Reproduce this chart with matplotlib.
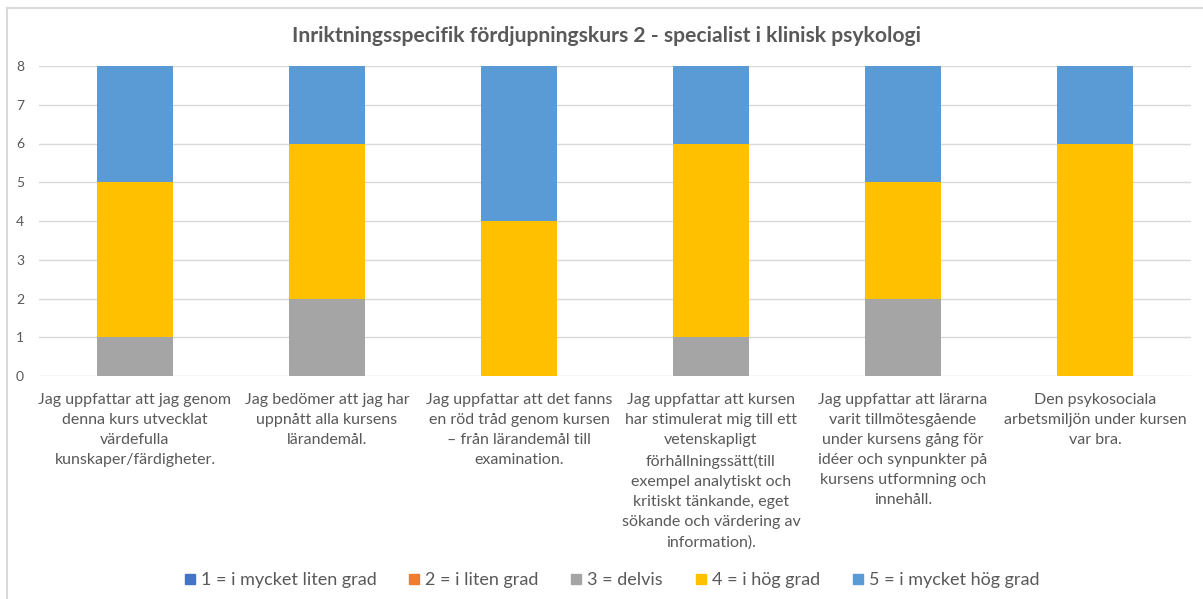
import matplotlib.pyplot as plt
from matplotlib.lines import Line2D
import numpy as np

plt.rcParams['font.family'] = ['Lato', 'DejaVu Sans']

# Kategorier (påståenden)
kategorier = [
    "Jag uppfattar att jag genom\ndenna kurs utvecklat\nvärdefulla\nkunskaper/färdigheter.",
    "Jag bedömer att jag har\nuppnått alla kursens\nlärandemål.",
    "Jag uppfattar att det fanns\nen röd tråd genom kursen\n– från lärandemål till\nexamination.",
    "Jag uppfattar att kursen\nhar stimulerat mig till ett\nvetenskapligt\nförhållningssätt(till\nexempel analytiskt och\nkritiskt tänkande, eget\nsökande och värdering av\ninformation).",
    "Jag uppfattar att lärarna\nvarit tillmötesgående\nunder kursens gång för\nidéer och synpunkter på\nkursens utformning och\ninnehåll.",
    "Den psykosociala\narbetsmiljön under kursen\nvar bra.",
]

serier = ["1 = i mycket liten grad", "2 = i liten grad", "3 = delvis",
          "4 = i hög grad", "5 = i mycket hög grad"]
grad1 = [0, 0, 0, 0, 0, 0]
grad2 = [0, 0, 0, 0, 0, 0]
grad3 = [1, 2, 0, 1, 2, 0]
grad4 = [4, 4, 4, 5, 3, 6]
grad5 = [3, 2, 4, 2, 3, 2]
farger = ["#4472C4", "#ED7D31", "#A5A5A5", "#FFC000", "#5B9BD5"]

fig = plt.figure(figsize=(12.03, 5.99), dpi=100)
ax = fig.add_axes([39 / 1203, 1 - 376 / 599, (1191 - 39) / 1203, (376 - 66) / 599])

x = np.arange(len(kategorier))
botten = np.zeros(len(kategorier))
for namn, varden, farg in zip(serier, [grad1, grad2, grad3, grad4, grad5], farger):
    ax.bar(x, varden, width=0.4, bottom=botten, color=farg, label=namn, zorder=3)
    botten += np.array(varden)

ax.set_xlim(-0.5, len(kategorier) - 0.5)
ax.set_ylim(0, 8)
ax.set_yticks(range(0, 9))
ax.grid(axis='y', color='#D9D9D9', linewidth=1, zorder=0)
for s in ax.spines.values():
    s.set_visible(False)
ax.tick_params(axis='both', length=0, colors='#595959')
ax.tick_params(axis='y', labelsize=10, pad=10.8)
ax.set_xticks(x)
ax.set_xticklabels(kategorier, fontsize=11.5, color='#595959', linespacing=1.56)
ax.tick_params(axis='x', pad=12)

fig.suptitle("Inriktningsspecifik fördjupningskurs 2 - specialist i klinisk psykologi",
             x=0.504, y=1 - 36 / 599, va='center', fontsize=15.2, fontweight='bold',
             color='#595959')

handles = [Line2D([0], [0], marker='s', linestyle='', markersize=7.2,
                  markerfacecolor=f, markeredgecolor=f) for f in farger]
fig.legend(handles, serier, loc='center', bbox_to_anchor=(0.507, 1 - 580 / 599),
           ncol=5, frameon=False, fontsize=13, labelcolor='#595959',
           handletextpad=0.1, columnspacing=1.6, handlelength=1.0)

# ram runt diagrammet
fig.add_artist(Line2D([7 / 1203, 7 / 1203], [0, 1 - 8 / 599], color='#D9D9D9', linewidth=1.5))
fig.add_artist(Line2D([7 / 1203, 1], [1 - 8 / 599, 1 - 8 / 599], color='#D9D9D9', linewidth=1.5))

fig.savefig("out.png", dpi=100)
